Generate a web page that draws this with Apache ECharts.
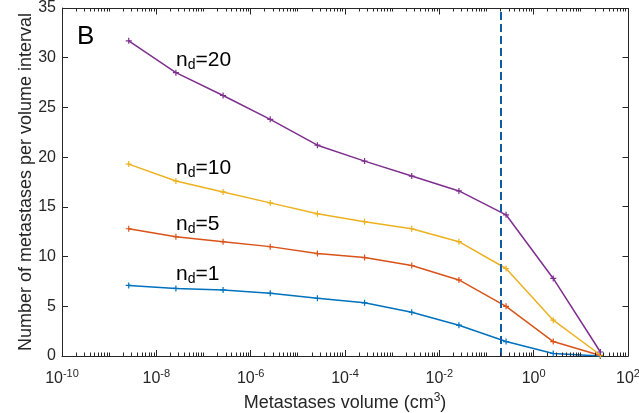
<!DOCTYPE html>
<html>
<head>
<meta charset="utf-8">
<script src="https://cdn.jsdelivr.net/npm/echarts@6/dist/echarts.min.js"></script>
<style>
html,body{margin:0;padding:0;background:#fff;}
#chart{width:639px;height:413px;}
</style>
</head>
<body>
<div id="chart"></div>
<script>
// ---- data ----
const volumes = [2.6e-9, 2.6e-8, 2.6e-7, 2.6e-6, 2.6e-5, 2.6e-4, 2.6e-3, 2.6e-2, 2.6e-1, 2.6, 26];
const nd20 = [31.7, 28.5, 26.2, 23.8, 21.2, 19.6, 18.1, 16.6, 14.2, 7.8, 0.4];
const nd10 = [19.3, 17.6, 16.5, 15.4, 14.3, 13.5, 12.8, 11.5, 8.8, 3.6, 0.1];
const nd5  = [12.8, 12.0, 11.5, 11.0, 10.3, 9.9, 9.1, 7.65, 5.0, 1.45, 0.05];
const nd1  = [7.1, 6.8, 6.65, 6.3, 5.8, 5.35, 4.4, 3.1, 1.45, 0.25, 0.0];
const thresholdVolume = 0.2;
const seriesNames = ['n_d=1', 'n_d=5', 'n_d=10', 'n_d=20'];
const yTicks = [0, 5, 10, 15, 20, 25, 30, 35];
const xMajorTicks = [1e-10, 1e-8, 1e-6, 1e-4, 1e-2, 1, 1e2];
const xMinExp = -10, xMaxExp = 2, yMax = 35;
const yTitle = 'Number of metastases per volume interval';

// ---- build ----
const AX = '#262626';
const plus = 'path://M4,0H6V4H10V6H6V10H4V6H0V4H4Z';
function pairs(ys){ return volumes.map((v,i)=>[v, ys[i]]); }
function snap(v){ return Math.round(v - 0.5) + 0.5; }

// minor tick positions for the log axis (2..9 x 10^n and every odd decade)
const minorTicks = [];
for (let e = xMinExp; e < xMaxExp; e++) {
  for (let m = 1; m <= 9; m++) {
    if (m === 1 && (e % 2 === 0)) continue;
    minorTicks.push([m * Math.pow(10, e)]);
  }
}

const chart = echarts.init(document.getElementById('chart'), null, {renderer:'canvas'});
const font = 'Liberation Sans, Arial, Helvetica, sans-serif';

function lineSeries(name, ys, color){
  return {
    name, type:'line', data: pairs(ys), symbol: plus, symbolSize: 6,
    lineStyle:{color, width:1.5}, itemStyle:{color},
    showSymbol:true, animation:false, z:3
  };
}
function ndLabel(left, top, val){
  return {type:'text', left, top, z:10, style:{
    text:'{n|n}{d|d}{n|=' + val + '}',
    rich:{
      n:{fontSize:21, fontFamily:font, color:'#000'},
      d:{fontSize:14, fontFamily:font, color:'#000', padding:[10,0,0,0]}
    }
  }};
}

const xMin = Math.pow(10, xMinExp), xMax = Math.pow(10, xMaxExp);

const option = {
  animation:false,
  backgroundColor:'#fff',
  grid:{left:62, right:11, top:8, bottom:57, show:false, containLabel:false, outerBoundsMode:'none'},
  xAxis:{
    type:'log', logBase:10, min:xMin, max:xMax, interval:2,
    position:'bottom',
    name:'{a|Metastases volume (cm}{s|3}{a|)}',
    nameLocation:'middle', nameGap:31,
    nameTextStyle:{rich:{
      a:{fontSize:18, fontFamily:font, color:AX},
      s:{fontSize:12, fontFamily:font, color:AX, padding:[0,0,11,0]}
    }},
    axisLine:{show:true, onZero:false, lineStyle:{color:AX, width:1}},
    axisTick:{show:true, inside:true, length:6, lineStyle:{color:AX}},
    splitLine:{show:false},
    axisLabel:{margin:12, formatter:function(v){
        const e = Math.round(Math.log10(v));
        return '{b|10}{s|' + e + '}';
      },
      rich:{
        b:{fontSize:16, fontFamily:font, color:AX},
        s:{fontSize:11, fontFamily:font, color:AX, padding:[0,0,11,0]}
      }
    }
  },
  yAxis:{
    type:'value', min:0, max:yMax, interval:5, position:'left',
    axisLine:{show:true, onZero:false, lineStyle:{color:AX, width:1}},
    axisTick:{show:true, inside:true, length:6, lineStyle:{color:AX}},
    axisLabel:{fontSize:16, fontFamily:font, color:AX, margin:6},
    splitLine:{show:false}
  },
  series:[
    {
      type:'custom', name:'minorTicks', data:minorTicks, silent:true, clip:false, z:5,
      renderItem:function(params, api){
        const v = api.value(0);
        const b = api.coord([v, 0]);
        const t = api.coord([v, yMax]);
        const x = snap(b[0]);
        const st = {stroke:AX, lineWidth:1};
        return {type:'group', children:[
          {type:'line', shape:{x1:x, y1:b[1], x2:x, y2:b[1]-3.5}, style:st},
          {type:'line', shape:{x1:x, y1:t[1], x2:x, y2:t[1]+3.5}, style:st}
        ]};
      }
    },
    {
      type:'custom', name:'frame', data:[[1, 1]], silent:true, clip:false, z:5,
      renderItem:function(params, api){
        const st = {stroke:AX, lineWidth:1};
        const tl = api.coord([xMin, yMax]);
        const tr = api.coord([xMax, yMax]);
        const br = api.coord([xMax, 0]);
        const ty = snap(tl[1]), rx = snap(tr[0]);
        const ch = [
          {type:'line', shape:{x1:tl[0], y1:ty, x2:rx, y2:ty}, style:st},
          {type:'line', shape:{x1:rx, y1:ty, x2:rx, y2:br[1]}, style:st}
        ];
        yTicks.forEach(function(y){
          const p = api.coord([xMax, y]);
          const py = snap(p[1]);
          ch.push({type:'line', shape:{x1:rx, y1:py, x2:rx-6, y2:py}, style:st});
        });
        xMajorTicks.forEach(function(x){
          const p = api.coord([x, yMax]);
          const px = snap(p[0]);
          ch.push({type:'line', shape:{x1:px, y1:ty, x2:px, y2:ty+6}, style:st});
        });
        return {type:'group', children:ch};
      }
    },
    lineSeries(seriesNames[0], nd1, '#0072BD'),
    lineSeries(seriesNames[1], nd5, '#D95319'),
    lineSeries(seriesNames[2], nd10, '#EDB120'),
    Object.assign(lineSeries(seriesNames[3], nd20, '#7E2F8E'), {
      markLine:{
        silent:true, symbol:['none','none'], animation:false,
        label:{show:false},
        lineStyle:{color:'#0E5CA8', width:2, type:[8,4]},
        data:[{xAxis:thresholdVolume}]
      }
    })
  ],
  graphic:[
    {type:'text', x:26, y:182, rotation:Math.PI/2, z:10, style:{
      text:yTitle, fontSize:18, fontFamily:font, fill:AX,
      align:'center', verticalAlign:'middle', textAlign:'center', textVerticalAlign:'middle'}},
    {type:'text', left:77, top:24, style:{text:'B', font:'26px ' + font, fill:'#000'}},
    ndLabel(176, 50, 20),
    ndLabel(176, 158, 10),
    ndLabel(176, 214, 5),
    ndLabel(176, 264, 1)
  ]
};
chart.setOption(option);
</script>
</body>
</html>
